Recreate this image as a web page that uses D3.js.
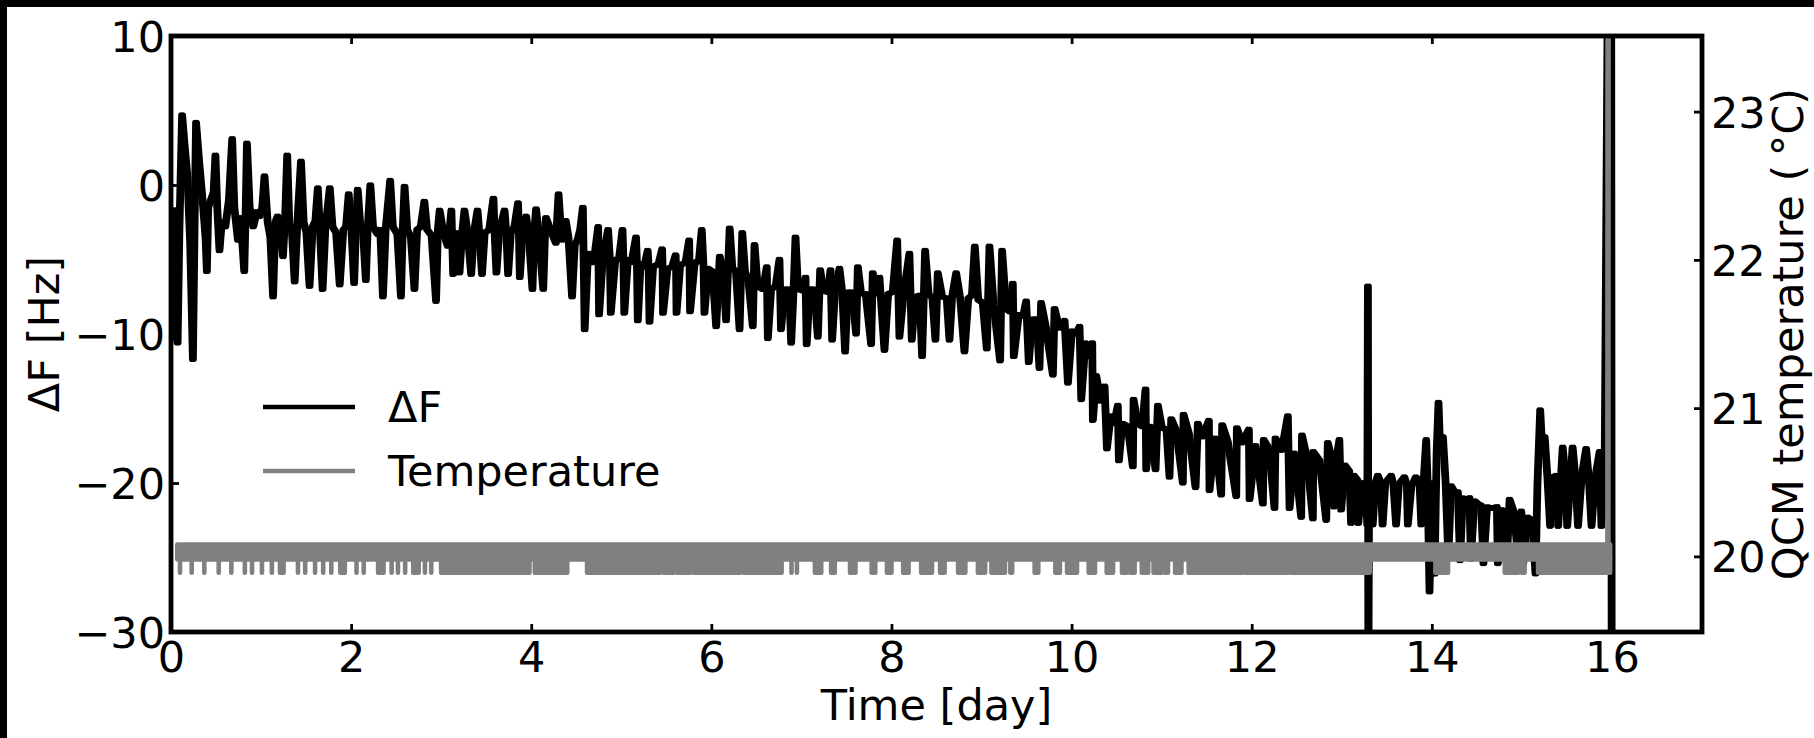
<!DOCTYPE html>
<html>
<head>
<meta charset="utf-8">
<script src="https://cdn.jsdelivr.net/npm/d3@7"></script>
<style>
  html, body { margin: 0; padding: 0; background: #fff; }
  svg { display: block; font-family: "DejaVu Sans", sans-serif; }
</style>
</head>
<body>
<svg id="chart" width="1814" height="738"></svg>
<script>
// ---- data ----
const xTicks = [0, 2, 4, 6, 8, 10, 12, 14, 16];
const dfTicks = [-30, -20, -10, 0, 10];
const tempTicks = [20, 21, 22, 23];

// QCM frequency shift, [day, Hz]
const deltaF = [
  [0.00,-1.5],[0.03,-9.8],[0.06,-10.6],[0.08,-3.0],[0.11,4.7],[0.14,2.5],[0.17,0.5],[0.20,-4.0],[0.23,-11.7],[0.25,-2.0],
  [0.265,4.2],[0.30,1.5],[0.34,-1.2],[0.37,-3.5],[0.385,-5.8],[0.40,-1.5],[0.43,-1.0],
  [0.46,-0.5],[0.48,2.0],[0.50,-1.5],[0.525,-4.4],[0.55,-2.5],[0.59,-2.8],[0.63,-1.0],[0.666,3.1],[0.69,-1.5],[0.73,-3.7],
  [0.76,-2.2],[0.80,-5.8],[0.815,-2.0],[0.83,2.8],[0.86,-1.5],[0.90,-2.8],[0.94,-1.8],[0.97,-2.1],[1.00,-1.5],[1.025,0.6],
  [1.06,-2.5],[1.09,-3.5],[1.12,-7.5],[1.145,-2.5],[1.17,-2.1],[1.20,-3.0],[1.23,-4.8],[1.255,-2.0],[1.277,2.0],[1.30,-2.5],
  [1.33,-3.2],[1.36,-6.5],[1.39,-2.5],[1.43,1.6],[1.46,-2.5],[1.49,-3.2],[1.525,-6.8],[1.56,-2.8],[1.59,-2.4],[1.617,-0.2],
  [1.64,-3.0],[1.67,-7.0],[1.70,-3.0],[1.75,-0.2],[1.78,-2.8],[1.82,-3.2],[1.86,-6.7],[1.90,-3.0],[1.93,-2.8],[1.96,-0.6],
  [1.99,-3.0],[2.02,-6.6],[2.04,-3.0],[2.06,-0.3],[2.09,-2.8],[2.12,-3.2],[2.15,-6.4],[2.17,-3.0],[2.20,0.0],[2.23,-2.8],
  [2.28,-3.3],[2.31,-3.0],[2.34,-7.5],[2.37,-3.0],[2.42,0.3],[2.45,-2.8],[2.50,-3.3],[2.54,-7.5],[2.56,-3.0],[2.58,-0.1],
  [2.61,-3.0],[2.65,-3.5],[2.69,-7.0],[2.72,-3.0],[2.76,-2.8],[2.80,-1.1],[2.83,-3.0],[2.88,-3.4],[2.93,-7.8],[2.95,-3.0],
  [2.97,-1.7],[3.01,-3.2],[3.06,-4.1],[3.08,-3.0],[3.10,-1.7],[3.12,-6.0],[3.15,-3.2],
  [3.19,-5.9],[3.22,-3.2],[3.245,-1.7],[3.28,-3.2],[3.32,-6.0],[3.35,-3.2],[3.39,-1.7],[3.41,-3.2],[3.44,-6.0],[3.47,-3.2],
  [3.52,-3.0],[3.567,-0.9],[3.58,-3.2],[3.60,-5.9],[3.63,-3.2],[3.69,-1.7],[3.71,-3.2],[3.73,-6.0],[3.76,-3.2],[3.80,-2.8],
  [3.84,-1.2],[3.85,-3.2],[3.86,-6.2],[3.89,-3.2],[3.93,-2.1],[3.96,-3.4],[4.00,-7.0],[4.02,-3.2],[4.04,-1.6],[4.07,-3.3],
  [4.12,-7.0],[4.14,-3.2],[4.15,-2.2],[4.20,-3.0],[4.26,-3.9],[4.29,-0.6],[4.31,-2.5],[4.33,-3.7],[4.37,-2.4],[4.40,-3.5],
  [4.44,-7.5],[4.47,-4.0],[4.50,-3.7],[4.53,-3.0],[4.56,-1.5],[4.58,-9.7],[4.61,-5.5],[4.63,-4.6],[4.68,-5.2],[4.73,-2.8],
  [4.74,-8.7],[4.78,-5.0],[4.84,-3.0],[4.86,-5.0],[4.87,-8.6],[4.92,-5.0],[4.96,-5.0],[5.00,-3.0],[5.01,-5.0],[5.02,-8.6],
  [5.06,-5.0],[5.10,-5.2],[5.15,-3.5],[5.16,-5.2],[5.17,-9.1],[5.20,-5.3],[5.24,-5.5],[5.28,-4.4],[5.29,-5.5],[5.30,-9.2],
  [5.34,-5.5],[5.40,-5.3],[5.44,-4.3],[5.445,-5.5],[5.45,-8.6],[5.50,-5.6],[5.55,-5.5],[5.59,-4.7],[5.595,-5.6],[5.60,-8.6],
  [5.64,-5.4],[5.70,-5.2],[5.74,-3.7],[5.745,-5.5],[5.75,-8.5],[5.80,-5.3],[5.85,-5.0],[5.88,-3.0],[5.90,-5.5],[5.91,-8.6],
  [5.95,-5.6],[6.00,-5.8],[6.04,-9.5],[6.08,-4.8],[6.12,-5.8],[6.15,-9.1],[6.19,-2.9],[6.22,-5.6],[6.26,-5.8],[6.30,-9.7],
  [6.33,-3.2],[6.36,-5.8],[6.40,-6.5],
  [6.447,-9.5],[6.466,-4.0],[6.50,-6.8],[6.56,-7.0],[6.602,-5.5],[6.614,-10.3],[6.65,-7.0],[6.70,-6.8],[6.743,-5.0],[6.76,-9.7],
  [6.80,-7.0],[6.85,-7.0],[6.873,-10.6],[6.90,-7.0],[6.921,-3.5],[6.95,-7.0],[7.00,-7.1],[7.032,-6.2],[7.045,-10.7],[7.08,-7.0],
  [7.13,-7.0],[7.169,-10.2],[7.195,-5.7],[7.23,-7.1],[7.28,-7.2],[7.31,-5.7],[7.328,-10.4],[7.36,-7.1],[7.409,-5.6],[7.44,-7.2],
  [7.472,-11.2],[7.50,-7.2],[7.55,-7.2],[7.594,-10.0],[7.613,-5.5],[7.65,-7.3],[7.70,-7.3],[7.761,-10.7],[7.779,-5.9],[7.81,-7.3],
  [7.853,-6.2],[7.909,-11.1],[7.95,-7.3],[8.00,-7.2],[8.05,-3.7],[8.075,-10.2],[8.12,-7.4],[8.186,-4.6],[8.212,-10.4],[8.25,-7.5],
  [8.30,-7.4],[8.327,-11.5],[8.36,-4.4],[8.40,-7.4],[8.44,-7.5],[8.475,-10.4],[8.501,-5.9],[8.55,-7.5],[8.60,-7.6],[8.631,-10.4],
  [8.66,-7.5],[8.705,-5.9],[8.75,-7.6],[8.797,-11.2],[8.84,-7.6],[8.88,-7.4],[8.912,-4.1],[8.95,-7.7],[9.00,-7.9],[9.045,-11.0],
  [9.075,-4.1],[9.12,-8.0],[9.193,-11.8],[9.215,-4.4],[9.26,-8.3],[9.30,-8.5],[9.334,-6.6],[9.345,-11.5],[9.40,-8.7],[9.45,-8.8],
  [9.482,-7.8],[9.511,-11.9],[9.55,-9.0],[9.60,-9.0],[9.63,-12.3],[9.648,-7.9],
  [9.70,-9.5],[9.779,-12.75],[9.798,-8.3],[9.85,-9.6],[9.909,-9.1],[9.946,-13.3],[9.99,-9.8],[10.04,-10.0],[10.075,-9.5],[10.094,-14.4],
  [10.14,-10.6],[10.19,-11.5],[10.216,-10.6],[10.223,-15.8],[10.26,-12.8],[10.31,-14.5],[10.353,-13.5],[10.379,-17.7],[10.42,-15.5],[10.46,-16.0],
  [10.50,-14.8],[10.512,-18.5],[10.55,-16.0],[10.61,-16.2],[10.667,-18.9],[10.675,-14.4],[10.72,-16.0],[10.77,-16.2],[10.808,-13.7],[10.815,-19.1],
  [10.86,-16.2],[10.919,-19.1],[10.945,-14.8],[10.99,-16.3],[11.04,-16.4],[11.074,-19.6],[11.093,-15.7],[11.15,-16.5],[11.222,-20.0],[11.23,-15.4],
  [11.29,-16.7],[11.363,-20.3],[11.389,-16.0],[11.44,-16.9],[11.511,-15.8],[11.518,-20.5],[11.58,-17.0],[11.648,-20.8],[11.659,-16.1],[11.72,-17.2],
  [11.815,-20.9],[11.822,-16.3],[11.88,-17.3],[11.955,-16.4],[11.963,-21.1],[12.03,-17.5],[12.111,-21.4],[12.12,-17.1],[12.18,-17.7],[12.24,-21.7],
  [12.251,-17.0],[12.32,-17.8],[12.388,-15.5],[12.407,-21.7],[12.46,-18.0],[12.536,-22.3],[12.545,-16.8],[12.60,-18.3],[12.666,-22.4],[12.67,-17.9],
  [12.74,-18.5],[12.814,-22.5],[12.832,-17.3],
  [12.86,-18.0],[12.90,-21.6],[12.93,-18.3],[12.96,-17.1],[12.98,-21.8],[13.02,-18.8],[13.07,-19.2],[13.09,-22.7],[13.12,-19.5],[13.16,-19.8],
  [13.17,-22.7],[13.21,-20.0],[13.25,-20.0],[13.27,-22.8],[13.277,-6.8],[13.282,-34],[13.29,-20.0],[13.33,-22.8],[13.36,-20.0],[13.387,-19.5],
  [13.42,-20.0],[13.44,-22.8],[13.47,-20.0],[13.535,-19.5],[13.56,-20.1],[13.59,-22.8],[13.62,-20.1],[13.682,-19.6],[13.71,-20.2],[13.72,-22.8],
  [13.76,-20.2],[13.81,-19.6],[13.85,-20.0],[13.87,-22.8],[13.90,-19.5],[13.924,-17.1],[13.94,-20.0],[13.961,-27.3],[13.99,-20.0],[14.017,-26.1],
  [14.04,-18.0],[14.061,-14.6],[14.08,-18.0],[14.11,-16.9],[14.14,-20.0],[14.17,-25.0],[14.20,-20.2],[14.24,-20.6],[14.276,-20.6],[14.30,-25.2],
  [14.33,-21.0],[14.37,-21.1],[14.405,-21.0],[14.42,-25.1],[14.46,-21.2],[14.50,-21.4],[14.535,-21.5],[14.56,-25.4],[14.60,-21.6],[14.65,-21.7],
  [14.709,-21.6],[14.72,-25.4],[14.77,-21.8],[14.82,-25.2],[14.85,-21.1],[14.90,-22.0],[14.95,-25.4],[14.98,-21.9],[15.00,-25.5],[15.05,-22.3],
  [15.10,-22.5],[15.138,-26.1],[15.16,-20.0],[15.19,-15.1],[15.215,-18.0],[15.24,-16.9],[15.27,-19.6],[15.30,-22.9],[15.33,-19.6],[15.37,-19.5],
  [15.39,-22.9],[15.44,-17.6],[15.47,-19.6],[15.49,-22.9],[15.55,-17.6],[15.58,-19.6],[15.61,-22.9],[15.65,-19.6],[15.70,-17.7],[15.73,-19.7],
  [15.76,-22.9],[15.80,-19.7],[15.85,-17.9],[15.87,-22.9],[15.905,-19.7],[15.975,45],[15.985,-45]
];

// QCM temperature: the reading flickers between two levels so fast that it fills a band
const tempBandDays = [0.07, 15.98];
const tempBandC = [19.98, 20.08];
const tempDipC = 19.89;
// stretches (start day, end day) where the reading drops to the lower level
const tempDips = [
  [0.10,0.10],[0.23,0.23],[0.37,0.37],[0.53,0.53],[0.67,0.67],[0.82,0.82],[0.90,0.90],[1.01,1.01],[1.12,1.12],[1.21,1.25],
  [1.41,1.41],[1.49,1.49],[1.60,1.60],[1.69,1.69],[1.78,1.78],[1.88,1.93],[2.06,2.06],[2.14,2.14],[2.30,2.36],[2.45,2.45],
  [2.52,2.52],[2.60,2.60],[2.69,2.75],[2.82,2.82],[2.89,2.89],
  [3.00,3.98],[4.04,4.40],[4.62,5.43],[5.47,5.58],[5.62,5.76],[5.80,6.32],[6.36,6.78],
  [6.89,6.89],[6.95,6.95],[7.15,7.22],[7.33,7.37],[7.54,7.60],[7.78,7.82],[7.95,8.00],[8.13,8.19],[8.33,8.45],[8.54,8.59],
  [8.74,8.82],[8.96,9.04],[9.11,9.26],[9.32,9.34],[9.59,9.63],
  [9.82,9.87],[9.95,10.06],[10.19,10.26],[10.39,10.46],[10.56,10.61],[10.65,10.70],[10.78,10.85],[10.91,11.00],[11.04,11.07],
  [11.15,11.22],[11.30,11.90],[11.93,12.40],[12.43,13.31],
  [14.04,14.18],[14.81,14.96],[15.00,15.03],[15.18,15.98]
];
// jump at the end of the run, [day, °C]
const tempSpike = [[15.955, 20.03], [15.958, 24.5]];

// ---- layout ----
const W = 1814, H = 738;
const margin = {top: 36, right: 112, bottom: 106, left: 171};
const fontSize = 43;
const lw = 5.4;   // frequency trace
const tlw = 4.6;  // temperature + legend samples

const x = d3.scaleLinear().domain([0, 17]).range([margin.left, W - margin.right]);
const yDf = d3.scaleLinear().domain([-30, 10]).range([H - margin.bottom, margin.top]);
const yTemp = d3.scaleLinear().domain([19.49, 23.51]).range([H - margin.bottom, margin.top]);

const svg = d3.select("#chart");

// dark strips along the top and left edge of the source picture
svg.append("rect").attr("x", 0).attr("y", 0).attr("width", W).attr("height", 7).attr("fill", "#000");
svg.append("rect").attr("x", 0).attr("y", 0).attr("width", 7).attr("height", H).attr("fill", "#000");

svg.append("clipPath").attr("id", "plot-clip")
  .append("rect")
    .attr("x", margin.left).attr("y", margin.top)
    .attr("width", W - margin.left - margin.right)
    .attr("height", H - margin.top - margin.bottom);

const plot = svg.append("g").attr("clip-path", "url(#plot-clip)");

// the sampled trace is much denser than the points read here, so its spikes
// come out as fat strokes; stroke it twice, a hair apart, to get that weight
const dfLine = d3.line().x(d => x(d[0])).y(d => yDf(d[1]));
plot.selectAll("path.df")
  .data([0, 2.4])
  .join("path")
    .attr("class", "df")
    .attr("transform", d => `translate(${d},0)`)
    .attr("fill", "none")
    .attr("stroke", "#000")
    .attr("stroke-width", lw)
    .attr("stroke-linejoin", "round")
    .attr("d", dfLine(deltaF));

// temperature sits on the twin axis, drawn above the frequency trace
const grey = "#808080";
const band = d3.area().x(d => x(d)).y0(yTemp(tempBandC[0])).y1(yTemp(tempBandC[1]));
plot.append("path")
    .datum(tempBandDays)
    .attr("fill", grey)
    .attr("stroke", grey)
    .attr("stroke-width", tlw)
    .attr("stroke-linejoin", "round")
    .attr("d", band);

const dip = d3.area().x(d => x(d)).y0(yTemp(tempDipC)).y1(yTemp(tempBandC[0]));
plot.selectAll("path.dip")
  .data(tempDips)
  .join("path")
    .attr("class", "dip")
    .attr("fill", grey)
    .attr("stroke", grey)
    .attr("stroke-width", tlw)
    .attr("stroke-linejoin", "round")
    .attr("d", d => dip(d));

const tempLine = d3.line().x(d => x(d[0])).y(d => yTemp(d[1]));
plot.append("path")
    .datum(tempSpike)
    .attr("fill", "none")
    .attr("stroke", grey)
    .attr("stroke-width", tlw + 1)
    .attr("d", tempLine);

// ---- axes (ticks point inward) ----
function styleAxis(g) {
  g.select(".domain").remove();
  g.selectAll(".tick line").attr("stroke", "#000").attr("stroke-width", 2.8);
  g.selectAll("text")
    .attr("font-size", fontSize)
    .attr("font-family", "DejaVu Sans, sans-serif")
    .attr("fill", "#000");
}
const intFmt = d3.format("d");

svg.append("g")
    .attr("transform", `translate(0,${yDf.range()[0]})`)
    .call(d3.axisBottom(x).tickValues(xTicks).tickFormat(intFmt).tickSizeInner(-8).tickSizeOuter(0).tickPadding(9))
    .call(styleAxis);

svg.append("g")
    .attr("transform", `translate(0,${yDf.range()[1]})`)
    .call(d3.axisTop(x).tickValues(xTicks).tickSizeInner(-8).tickSizeOuter(0).tickFormat(() => ""))
    .call(styleAxis);

svg.append("g")
    .attr("transform", `translate(${x.range()[0]},0)`)
    .call(d3.axisLeft(yDf).tickValues(dfTicks).tickFormat(intFmt).tickSizeInner(-8).tickSizeOuter(0).tickPadding(6))
    .call(styleAxis)
    .call(g => g.selectAll("text").attr("dy", "0.36em"));

svg.append("g")
    .attr("transform", `translate(${x.range()[1]},0)`)
    .call(d3.axisRight(yTemp).tickValues(tempTicks).tickFormat(intFmt).tickSizeInner(-8).tickSizeOuter(0).tickPadding(9))
    .call(styleAxis)
    .call(g => g.selectAll("text").attr("dy", "0.36em"));

// spines
svg.append("rect")
    .attr("x", x.range()[0]).attr("y", yDf.range()[1])
    .attr("width", x.range()[1] - x.range()[0])
    .attr("height", yDf.range()[0] - yDf.range()[1])
    .attr("fill", "none")
    .attr("stroke", "#000")
    .attr("stroke-width", 4.8);

// axis titles
const labels = svg.append("g").attr("font-size", fontSize).attr("fill", "#000");
labels.append("text")
    .attr("transform", `translate(59,${(margin.top + H - margin.bottom) / 2}) rotate(-90)`)
    .attr("text-anchor", "middle")
    .text("ΔF [Hz]");
labels.append("text")
    .attr("x", (x.range()[0] + x.range()[1]) / 2)
    .attr("y", 720)
    .attr("text-anchor", "middle")
    .text("Time [day]");
labels.append("text")
    .attr("transform", `translate(1803,${(margin.top + H - margin.bottom) / 2}) rotate(-90)`)
    .attr("text-anchor", "middle")
    .text("QCM temperature (\u2009°C)");

// legend, no frame
const legendItems = [
  {name: "ΔF", color: "#000"},
  {name: "Temperature", color: grey}
];
const legend = svg.append("g").attr("transform", "translate(263,407)");
const item = legend.selectAll("g")
  .data(legendItems)
  .join("g")
    .attr("transform", (d, i) => `translate(0,${i * 64})`);
item.append("line")
    .attr("x1", 0).attr("x2", 92)
    .attr("stroke", d => d.color)
    .attr("stroke-width", tlw);
item.append("text")
    .attr("x", 125)
    .attr("dy", "0.36em")
    .attr("font-size", fontSize)
    .text(d => d.name);
</script>
</body>
</html>
